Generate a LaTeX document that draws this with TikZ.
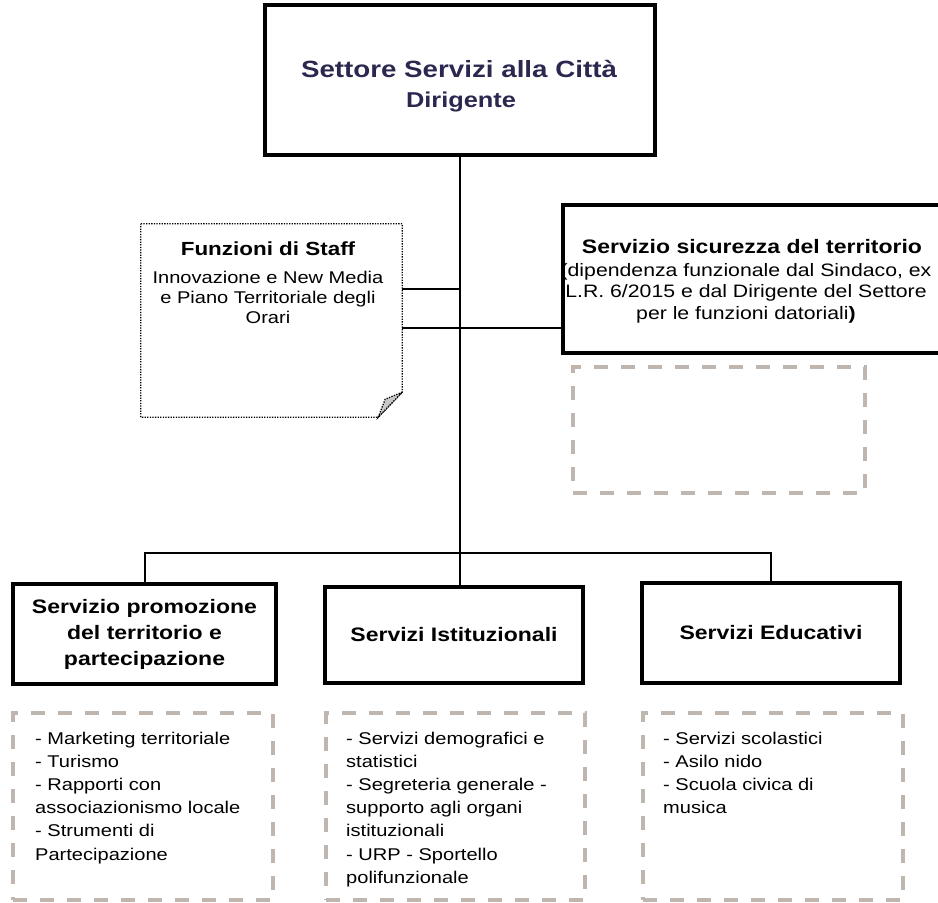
\documentclass[tikz,border=0pt]{standalone}
\usepackage{fontspec}
\setmainfont[FakeStretch=1.18]{Liberation Sans}
\usetikzlibrary{calc}
\definecolor{navy}{RGB}{43,40,80}
\definecolor{dgrey}{RGB}{190,182,175}
\definecolor{foldgrey}{RGB}{200,200,200}
\begin{document}
\begin{tikzpicture}[x=1pt,y=-1pt,
  mainbox/.style={draw=black, line width=4pt, rectangle, inner sep=0pt, align=center},
  dashbox/.style={draw=dgrey, line width=3.5pt, dash pattern=on 14pt off 13pt, rectangle, inner sep=0pt},
  conn/.style={line width=2pt, black},
  ttl/.style={font=\fontsize{19.5}{26}\selectfont\bfseries},
  lst/.style={font=\fontsize{17}{23.2}\selectfont, inner sep=0pt, align=left, anchor=north west},
  plain/.style={inner sep=0pt},
  staffline/.style={line width=1.3pt, dash pattern=on 1.3pt off 1.3pt}]
\useasboundingbox (0,0) rectangle (938,903);
\clip (0,0) rectangle (938,903);

% top box
\node[mainbox, minimum width=390pt, minimum height=150pt] (top) at (460,80) {};
\node[plain, anchor=base, text=navy, font=\fontsize{23.5}{28}\selectfont\bfseries] (toptitle) at (459,77) {Settore Servizi alla Città};
\node[plain, anchor=base, text=navy, font=\fontsize{21.5}{26}\selectfont\bfseries] (topsub) at (461,107) {Dirigente};

% staff box
\node[plain, minimum width=261pt, minimum height=193pt] (staff) at (271.5,320.5) {};
\coordinate (fa) at ($(staff.south east)+(0,-25)$);
\coordinate (fb) at ($(staff.south east)+(-24,0)$);
\coordinate (fc) at ($(staff.south east)+(-17,-18)$);
\draw[staffline] (staff.north west) -- (staff.north east) -- (fa) -- (fb) -- (staff.south west) -- cycle;
\draw[staffline, fill=foldgrey] (fa) -- (fc) -- (fb) -- cycle;
\node[plain, anchor=base, font=\fontsize{19}{24}\selectfont\bfseries] (stafftitle) at (268,255) {Funzioni di Staff};
\node[plain, anchor=north, align=center, font=\fontsize{17}{20}\selectfont] (stafftext) at (268,270.5) {Innovazione e New Media\\e Piano Territoriale degli\\Orari};

% sicurezza box
\node[mainbox, minimum width=382pt, minimum height=148pt] (sic) at (754,279) {};
\node[plain, anchor=base, ttl] (sictitle) at (752,253) {Servizio sicurezza del territorio};
\node[plain, anchor=north, align=center, font=\fontsize{18}{21.5}\selectfont] (sictext) at (746,263) {(dipendenza funzionale dal Sindaco, ex\\L.R. 6/2015 e dal Dirigente del Settore\\per le funzioni datoriali\textbf{)}};
\node[dashbox, minimum width=292pt, minimum height=126pt] (sicd) at (719,430) {};

% bottom boxes
\node[mainbox, ttl, minimum width=263pt, minimum height=100pt] (b1) at (144.5,634) {Servizio promozione\\del territorio e\\partecipazione};
\node[mainbox, ttl, minimum width=258pt, minimum height=96pt] (b2) at (454,635) {Servizi Istituzionali};
\node[mainbox, ttl, minimum width=258pt, minimum height=100pt] (b3) at (771,633) {Servizi Educativi};

% connectors
\coordinate (j1) at (460,289);
\coordinate (j2) at (460,328);
\coordinate (bus) at (460,553);
\draw[conn] (top.south) -- (top.south |- b2.north);
\draw[conn] (j1 -| staff.east) -- (j1);
\draw[conn] (j2 -| staff.east) -- (j2 -| sic.west);
\draw[conn] (b1.north) |- (bus) -| (b3.north);

% dashed lists
\node[dashbox, minimum width=260pt, minimum height=187pt] (d1) at (143,806.5) {};
\node[dashbox, minimum width=259pt, minimum height=187pt] (d2) at (455.5,806.5) {};
\node[dashbox, minimum width=260pt, minimum height=187pt] (d3) at (773,806.5) {};
\node[lst] (d1t) at (35,731.6) {- Marketing territoriale\\- Turismo\\- Rapporti con\\associazionismo locale\\- Strumenti di\\Partecipazione};
\node[lst] (d2t) at (346,731.6) {- Servizi demografici e\\statistici\\- Segreteria generale -\\supporto agli organi\\istituzionali\\- URP - Sportello\\polifunzionale};
\node[lst] (d3t) at (663,731.6) {- Servizi scolastici\\- Asilo nido\\- Scuola civica di\\musica};
\end{tikzpicture}
\end{document}
